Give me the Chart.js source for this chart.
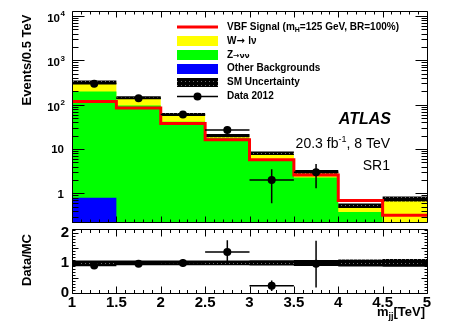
<!DOCTYPE html>
<html>
<head>
<meta charset="utf-8">
<script src="https://cdn.jsdelivr.net/npm/chart.js@4.4.0/dist/chart.umd.min.js"></script>
<style>
  body { margin: 0; background: #fff; }
  #wrap { position: relative; width: 450px; height: 323px; }
  canvas { position: absolute; left: 0; }
  #top-chart { top: 0; }
  #ratio-chart { top: 226px; }
</style>
</head>
<body>
<div id="wrap">
  <canvas id="top-chart" width="450" height="227"></canvas>
  <canvas id="ratio-chart" width="450" height="97"></canvas>
</div>
<script>
// bins in m_jj [TeV]
const binEdges = [1, 1.5, 2, 2.5, 3, 3.5, 4, 4.5, 5];
const otherBkg = [0.8, 0.05, 0.03, 0.02, 0.01, 0.01, 0.01, 0.01];
const zNuNu = [196, 96, 41, 17.6, 5.8, 2.26, 0.37, 0.04];
const wLNu = [127, 47, 19, 2.5, 2.3, 0.81, 0.15, 0.7];
const vbfSignal = [118, 84.5, 37.8, 16.1, 5.7, 2.6, 0.69, 0.32];
const smUnc = [0.08, 0.08, 0.08, 0.08, 0.09, 0.1, 0.12, 0.13];

// data 2012
const dataX = [1.25, 1.75, 2.25, 2.75, 3.25, 3.75];
const dataEvents = [295, 139, 60, 27, 2, 3];
const dataErrUp = [17, 12, 8, 5.2, 1.5, 1.6];
const dataErrDown = [17, 12, 8, 5.2, 1.4, 1.7];

// data / MC
const ratioVals = [0.91, 0.97, 1.0, 1.37, 0.23, 0.97];
const ratioErrUp = [0.06, 0.08, 0.13, 0.4, 0.18, 0.78];
const ratioErrDown = [0.06, 0.08, 0.13, 0.32, 0.18, 0.8];

const xTickLabels = [1, 1.5, 2, 2.5, 3, 3.5, 4, 4.5, 5];
const ratioTickLabels = [0, 0.5, 1, 1.5, 2];
const logTickExponents = [0, 1, 2, 3, 4];

const FONT = "'Liberation Sans', Arial, Helvetica, sans-serif";
const SYM = "'DejaVu Sans', sans-serif";
Chart.defaults.font.family = FONT;
Chart.defaults.color = "#000";

const halfBin = (binEdges[1] - binEdges[0]) / 2;

// stacked sums
const stackOther = otherBkg.slice();
const stackZ = otherBkg.map((v, i) => v + zNuNu[i]);
const stackW = stackZ.map((v, i) => v + wLNu[i]);

function steps(values) {
  const pts = [];
  values.forEach((v, i) => {
    pts.push({ x: binEdges[i], y: v });
    pts.push({ x: binEdges[i + 1], y: v });
  });
  return pts;
}

function hatch(canvas) {
  const c = document.createElement("canvas");
  c.width = 4; c.height = 4;
  const g = c.getContext("2d");
  g.fillStyle = "#000";
  g.fillRect(0, 0, 4, 4);
  g.fillStyle = "#707070";
  g.fillRect(1, 1, 1, 1);
  return canvas.getContext("2d").createPattern(c, "repeat");
}

function stepDataset(values, opts) {
  return Object.assign({
    data: steps(values),
    pointRadius: 0,
    borderWidth: 0,
    borderColor: "rgba(0,0,0,0)",
    backgroundColor: "rgba(0,0,0,0)",
    fill: false,
    tension: 0
  }, opts);
}

function errorBarPlugin(ys, up, down) {
  return {
    id: "errorBars",
    beforeDatasetDraw(chart, args) {
      if (args.index !== 0) return;
      const { ctx, chartArea: a, scales: { x, y } } = chart;
      ctx.save();
      ctx.beginPath();
      ctx.rect(a.left, a.top, a.right - a.left, a.bottom - a.top);
      ctx.clip();
      ctx.strokeStyle = "#000";
      ctx.lineWidth = 1.5;
      ctx.beginPath();
      dataX.forEach((cx, i) => {
        const px = x.getPixelForValue(cx);
        const py = y.getPixelForValue(ys[i]);
        ctx.moveTo(x.getPixelForValue(cx - halfBin), py);
        ctx.lineTo(x.getPixelForValue(cx + halfBin), py);
        ctx.moveTo(px, y.getPixelForValue(ys[i] + up[i]));
        ctx.lineTo(px, y.getPixelForValue(ys[i] - down[i]));
      });
      ctx.stroke();
      ctx.restore();
    }
  };
}

// frame + inward ticks on all four sides
function framePlugin(yTicks, xMaj, xMin, yMaj, yMin) {
  return {
    id: "frameTicks",
    afterDatasetsDraw(chart) {
      const { ctx, chartArea: a, scales: { x, y } } = chart;
      const L = Math.round(a.left) + 0.5, R = Math.round(a.right) + 0.5;
      const T = Math.round(a.top) - 0.5, B = Math.round(a.bottom) - 0.5;
      ctx.save();
      ctx.strokeStyle = "#000";
      ctx.lineWidth = 1;
      ctx.beginPath();
      for (let i = 10; i <= 50; i++) {
        const px = Math.round(x.getPixelForValue(i / 10)) + 0.5;
        const len = i % 5 === 0 ? xMaj : xMin;
        ctx.moveTo(px, B); ctx.lineTo(px, B - len);
        ctx.moveTo(px, T); ctx.lineTo(px, T + len);
      }
      yTicks.forEach(t => {
        const py = Math.round(y.getPixelForValue(t.v)) + 0.5;
        if (py < T || py > B + 1) return;
        const len = t.major ? yMaj : yMin;
        ctx.moveTo(L, py); ctx.lineTo(L + len, py);
        ctx.moveTo(R, py); ctx.lineTo(R - len, py);
      });
      ctx.rect(L, T, R - L, B - T);
      ctx.stroke();
      ctx.restore();
    }
  };
}

function drawPieces(ctx, pieces, right, baseline) {
  let w = 0;
  pieces.forEach(p => { ctx.font = p.font; w += ctx.measureText(p.t).width; });
  let x = right - w;
  ctx.textAlign = "left";
  ctx.textBaseline = "alphabetic";
  pieces.forEach(p => {
    ctx.font = p.font;
    ctx.fillText(p.t, x, baseline + (p.dy || 0));
    x += ctx.measureText(p.t).width;
  });
}

function drawLeft(ctx, pieces, left, mid) {
  let x = left;
  ctx.textAlign = "left";
  ctx.textBaseline = "middle";
  pieces.forEach(p => {
    ctx.font = p.font;
    ctx.fillText(p.t, x, mid + (p.dy || 0));
    x += ctx.measureText(p.t).width;
  });
}

const topCanvas = document.getElementById("top-chart");
const ratioCanvas = document.getElementById("ratio-chart");
const topHatch = hatch(topCanvas);
const ratioHatch = hatch(ratioCanvas);

const yMinTop = 0.215, yMaxTop = 12270;
const logTicks = [];
for (let n = -1; n <= 4; n++) {
  for (let k = 1; k <= 9; k++) {
    const v = k * Math.pow(10, n);
    if (v >= yMinTop && v <= yMaxTop) logTicks.push({ v, major: k === 1 });
  }
}
const ratioTicks = [];
for (let i = 0; i <= 21; i++) ratioTicks.push({ v: i / 10, major: i % 5 === 0 });

const topDecor = {
  id: "topDecor",
  afterDraw(chart) {
    const { ctx, scales: { y } } = chart;
    ctx.save();
    ctx.fillStyle = "#000";
    // log axis labels
    logTickExponents.forEach(p => {
      const py = y.getPixelForValue(Math.pow(10, p));
      if (p >= 2) {
        ctx.font = "bold 11.5px " + FONT;
        ctx.textAlign = "right"; ctx.textBaseline = "middle";
        ctx.fillText("10", 60, py + 3);
        ctx.font = "bold 8px " + FONT;
        ctx.textAlign = "left";
        ctx.fillText(String(p), 60.5, py - 2);
      } else {
        ctx.font = "bold 11.5px " + FONT;
        ctx.textAlign = "right"; ctx.textBaseline = "middle";
        ctx.fillText(p === 1 ? "10" : "1", 64, py + 1);
      }
    });
    // y title
    ctx.save();
    ctx.translate(27, 60);
    ctx.rotate(-Math.PI / 2);
    ctx.font = "bold 13px " + FONT;
    ctx.textAlign = "center"; ctx.textBaseline = "middle";
    ctx.fillText("Events/0.5 TeV", 0, 0);
    ctx.restore();

    // legend
    const sx0 = 177, sx1 = 218, tx = 227;
    ctx.strokeStyle = "#ff0000"; ctx.lineWidth = 3;
    ctx.beginPath(); ctx.moveTo(sx0, 27); ctx.lineTo(sx1, 27); ctx.stroke();
    ctx.fillStyle = "#ffff00"; ctx.fillRect(sx0, 36, sx1 - sx0, 10);
    ctx.fillStyle = "#00ff00"; ctx.fillRect(sx0, 50, sx1 - sx0, 10);
    ctx.fillStyle = "#0000ff"; ctx.fillRect(sx0, 64, sx1 - sx0, 10);
    ctx.fillStyle = topHatch; ctx.fillRect(sx0, 78, sx1 - sx0, 9);
    ctx.strokeStyle = "#000"; ctx.lineWidth = 1.5;
    ctx.beginPath(); ctx.moveTo(sx0, 96.5); ctx.lineTo(sx1, 96.5); ctx.stroke();
    ctx.fillStyle = "#000";
    ctx.beginPath(); ctx.arc(197.5, 96.5, 4, 0, Math.PI * 2); ctx.fill();

    const lf = "bold 10px " + FONT;
    drawLeft(ctx, [
      { t: "VBF Signal (m", font: lf },
      { t: "H", font: "bold 7px " + FONT, dy: 3 },
      { t: "=125 GeV, BR=100%)", font: lf }
    ], tx, 27);
    drawLeft(ctx, [
      { t: "W", font: lf },
      { t: "\u2192 ", font: "bold 10px " + SYM },
      { t: "l\u03bd", font: lf }
    ], tx, 41);
    drawLeft(ctx, [
      { t: "Z", font: lf },
      { t: "\u2192\u03bd\u03bd", font: "bold 7.5px " + SYM, dy: 1 }
    ], tx, 55);
    ctx.font = lf;
    ctx.fillText("Other Backgrounds", tx, 68.5);
    ctx.fillText("SM Uncertainty", tx, 82.5);
    ctx.fillText("Data 2012", tx, 96.5);

    // ATLAS label
    drawPieces(ctx, [{ t: "ATLAS", font: "italic bold 16px " + FONT }], 391, 124);
    drawPieces(ctx, [
      { t: "20.3 fb", font: "14px " + FONT },
      { t: "-1", font: "9px " + FONT, dy: -6 },
      { t: ", 8 TeV", font: "14px " + FONT }
    ], 390, 148);
    drawPieces(ctx, [{ t: "SR1", font: "14px " + FONT }], 390, 170);
    ctx.restore();
  }
};

new Chart(topCanvas, {
  type: "line",
  data: {
    datasets: [
      {
        label: "Data 2012",
        data: dataX.map((x, i) => ({ x, y: dataEvents[i] })),
        showLine: false,
        pointRadius: 4,
        pointBorderWidth: 0,
        pointBackgroundColor: "#000"
      },
      stepDataset(vbfSignal, { label: "VBF Signal", borderColor: "#ff0000", borderWidth: 3 }),
      stepDataset(stackW.map((v, i) => v * (1 + smUnc[i])), { label: "SM Uncertainty", fill: "+1", backgroundColor: topHatch }),
      stepDataset(stackW.map((v, i) => v * (1 - smUnc[i])), { label: "unc low" }),
      stepDataset(stackOther, { label: "Other Backgrounds", fill: "start", backgroundColor: "#0000ff" }),
      stepDataset(stackZ, { label: "Z->vv", fill: "start", backgroundColor: "#00ff00" }),
      stepDataset(stackW, { label: "W->lv", fill: "start", backgroundColor: "#ffff00" })
    ]
  },
  options: {
    responsive: false,
    animation: false,
    devicePixelRatio: 1,
    layout: { padding: { left: 72, right: 23, top: 12, bottom: 1 } },
    plugins: { legend: { display: false }, tooltip: { enabled: false } },
    scales: {
      x: { type: "linear", min: 1, max: 5, bounds: "data", display: false },
      y: { type: "logarithmic", min: yMinTop, max: yMaxTop, bounds: "data", display: false }
    }
  },
  plugins: [errorBarPlugin(dataEvents, dataErrUp, dataErrDown), framePlugin(logTicks, 6, 3, 12, 6), topDecor]
});

const ratioDecor = {
  id: "ratioDecor",
  afterDraw(chart) {
    const ctx = chart.ctx;
    ctx.save();
    ctx.fillStyle = "#000";
    ctx.translate(27, 34);
    ctx.rotate(-Math.PI / 2);
    ctx.font = "bold 13px " + FONT;
    ctx.textAlign = "center"; ctx.textBaseline = "middle";
    ctx.fillText("Data/MC", 0, 0);
    ctx.restore();
    ctx.save();
    ctx.fillStyle = "#000";
    drawPieces(ctx, [
      { t: "m", font: "bold 13px " + FONT },
      { t: "jj", font: "bold 9px " + FONT, dy: 3 },
      { t: "[TeV]", font: "bold 13px " + FONT }
    ], 425, 90);
    ctx.restore();
  }
};

new Chart(ratioCanvas, {
  type: "line",
  data: {
    datasets: [
      {
        label: "Data/MC",
        data: dataX.map((x, i) => ({ x, y: ratioVals[i] })),
        showLine: false,
        pointRadius: 4,
        pointBorderWidth: 0,
        pointBackgroundColor: "#000"
      },
      stepDataset(smUnc.map(u => 1 + u), { label: "unc up", fill: "+1", backgroundColor: ratioHatch }),
      stepDataset(smUnc.map(u => 1 - u), { label: "unc low" })
    ]
  },
  options: {
    responsive: false,
    animation: false,
    devicePixelRatio: 1,
    layout: { padding: { left: 0, right: 23, top: 0, bottom: 0 } },
    plugins: { legend: { display: false }, tooltip: { enabled: false } },
    scales: {
      x: {
        type: "linear", min: 1, max: 5, bounds: "data",
        grid: { display: false, drawTicks: false },
        border: { display: false },
        ticks: { autoSkip: false, maxRotation: 0, padding: 0, font: { size: 15, weight: "bold" }, callback: v => String(v) },
        afterBuildTicks: s => { s.ticks = xTickLabels.map(v => ({ value: v })); },
        afterFit: s => { s.height = 29; s.paddingLeft = 0; s.paddingRight = 0; }
      },
      y: {
        type: "linear", min: -0.048, max: 2.112, bounds: "data",
        grid: { display: false, drawTicks: false },
        border: { display: false },
        ticks: { padding: 3, font: { size: 15, weight: "bold" }, callback: v => String(v) },
        afterBuildTicks: s => { s.ticks = ratioTickLabels.map(v => ({ value: v })); },
        afterFit: s => { s.width = 72; s.paddingTop = 0; s.paddingBottom = 0; }
      }
    }
  },
  plugins: [errorBarPlugin(ratioVals, ratioErrUp, ratioErrDown), framePlugin(ratioTicks, 7, 3.5, 6, 3), ratioDecor]
});
</script>
</body>
</html>
